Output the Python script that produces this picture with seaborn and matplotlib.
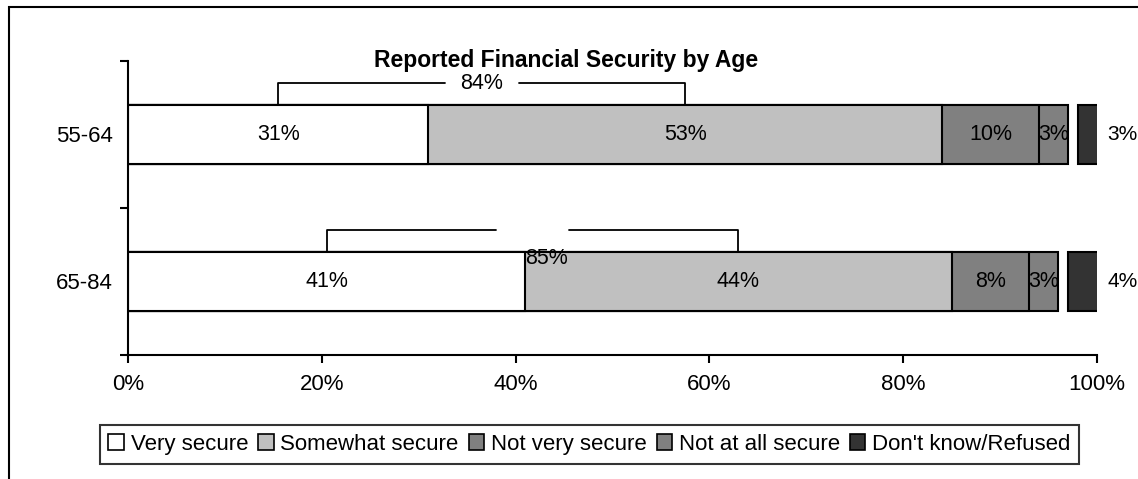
import pandas as pd
import matplotlib.pyplot as plt
import seaborn as sns
from matplotlib.patches import Patch, Rectangle
import numpy as np

# Survey values (percent of respondents)
ages = ['55-64', '65-84']
very_secure = [31, 41]
somewhat_secure = [53, 44]
not_very_secure = [10, 8]
not_at_all_secure = [3, 3]
dont_know = [3, 4]
secure_total = [84, 85]

categories = ['Very secure', 'Somewhat secure', 'Not very secure',
              'Not at all secure', "Don't know/Refused"]
colors = ['#FFFFFF', '#C0C0C0', '#808080', '#808080', '#333333']
x_ticks = [0, 20, 40, 60, 80, 100]

sns.set_theme(style='white')
plt.rcParams['font.family'] = ['Liberation Sans', 'DejaVu Sans']
plt.rcParams['text.color'] = 'black'
plt.rcParams['xtick.color'] = 'black'
plt.rcParams['ytick.color'] = 'black'

fig = plt.figure(figsize=(11.38, 4.79), dpi=100)
ax = fig.add_axes([0.1125, 0.2589, 0.8515, 0.6138])

segments = [very_secure, somewhat_secure, not_very_secure, not_at_all_secure]
cums = np.cumsum(np.array(segments), axis=0)

# stacked bars drawn as cumulative totals, largest first
for k in range(len(segments) - 1, -1, -1):
    df = pd.DataFrame({'age': ages, 'value': cums[k]})
    sns.barplot(data=df, x='value', y='age', orient='h', color=colors[k],
                saturation=1, width=0.4, edgecolor='black', linewidth=1.5,
                ax=ax)

# don't know / refused sits apart from the stack, cut off at 100%
gap = 1.0
ypos = np.arange(len(ages))
ax.barh(ypos, dont_know, left=cums[-1] + gap, height=0.4, color=colors[4],
        edgecolor='black', linewidth=1.5)

fs = 15.5
for i in range(len(ages)):
    lefts = np.concatenate([[0], cums[:-1, i]])
    for k in range(len(segments)):
        v = segments[k][i]
        ax.text(lefts[k] + v / 2, i, f'{v}%', ha='center', va='center',
                fontsize=fs)
    ax.text(102.6, i, f'{dont_know[i]}%', ha='center', va='center',
            fontsize=15, clip_on=False)

    # bracket over very + somewhat secure
    left = very_secure[i] / 2
    right = very_secure[i] + somewhat_secure[i] / 2
    bar_top = i - 0.2
    line_y = bar_top - 0.15
    mid = (left + right) / 2
    hg = 3.8
    ax.plot([left, left, mid - hg], [bar_top, line_y, line_y], color='black',
            lw=1.3, clip_on=False)
    ax.plot([mid + hg, right, right], [line_y, line_y, bar_top], color='black',
            lw=1.3, clip_on=False)
    if i == 0:
        ax.text(mid, line_y, f'{secure_total[i]}%', ha='center', va='center',
                fontsize=fs)
    else:
        # label slipped down onto the bar in the original
        ax.text(very_secure[i], bar_top - 0.03, f'{secure_total[i]}%',
                ha='left', va='top', fontsize=fs)

ax.set_xlim(0, 100)
ax.set_ylim(1.5, -0.5)
ax.set_xticks(x_ticks)
ax.set_xticklabels([f'{t}%' for t in x_ticks], fontsize=16)
ax.set_yticks([-0.5, 0.5, 1.5])
ax.set_yticklabels([])
ax.set_yticks(ypos, minor=True)
ax.set_yticklabels(ages, minor=True, fontsize=16)
ax.tick_params(axis='y', which='minor', length=0, pad=11)
ax.tick_params(axis='y', which='major', length=6, width=1.5, direction='out',
               left=True)
ax.tick_params(axis='x', length=6, width=1.5, direction='out', bottom=True,
               pad=8)
ax.set_xlabel('')
ax.set_ylabel('')
for side in ['top', 'right']:
    ax.spines[side].set_visible(False)
for side in ['left', 'bottom']:
    ax.spines[side].set_color('black')
    ax.spines[side].set_linewidth(1.5)

fig.text(0.497, 0.873, 'Reported Financial Security by Age', ha='center',
         va='center', fontsize=16.5, fontweight='bold')

handles = [Patch(facecolor=c, edgecolor='black', linewidth=1.2) for c in colors]
leg = fig.legend(handles, categories, loc='center', ncol=5,
                 bbox_to_anchor=(0.518, 0.072), bbox_transform=fig.transFigure,
                 fontsize=16, frameon=True, fancybox=False, handlelength=0.7,
                 handleheight=0.7, handletextpad=0.3, columnspacing=0.45,
                 borderpad=0.4, borderaxespad=0)
leg.get_frame().set_edgecolor('black')
leg.get_frame().set_linewidth(1.5)

# chart area border
fig.add_artist(Rectangle((9 / 1138, -0.1), 1.2, 1.1 - 7 / 479,
                         transform=fig.transFigure, fill=False,
                         edgecolor='black', linewidth=1.5))

fig.savefig('out.png', dpi=100)
